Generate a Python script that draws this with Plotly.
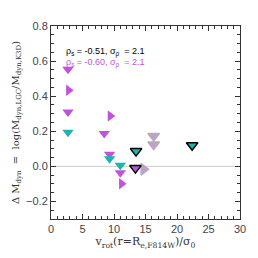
import plotly.graph_objects as go

# magenta down triangles
mag_down_x = [2.7, 2.7, 8.45, 9.3, 11.0]
mag_down_y = [0.553, 0.31, 0.187, 0.069, -0.036]
# magenta right triangles
mag_right_x = [2.8, 9.4, 11.2]
mag_right_y = [0.434, 0.287, -0.099]
# cyan down triangles
cyan_down_x = [2.7, 9.3, 11.0]
cyan_down_y = [0.195, 0.044, 0.006]
# black-edged cyan down
cyan_edge_x = [13.5, 22.4]
cyan_edge_y = [0.087, 0.12]
# black-edged magenta down
mag_edge_x = [13.4]
mag_edge_y = [-0.01]
# gray down
gray_down_x = [16.3, 16.3]
gray_down_y = [0.173, 0.124]
# gray right
gray_right_x = [14.7]
gray_right_y = [-0.017]

MAG = "#c152de"
CYAN = "#1fb3ae"
GRAYF = "#c69ad6"
GRAYL = "#b0b0b0"

fig = go.Figure()
def add(x, y, sym, fill, line, lw, size=10):
    fig.add_trace(go.Scatter(x=x, y=y, mode="markers",
                             marker=dict(symbol=sym, size=size, color=fill,
                                         line=dict(color=line, width=lw)),
                             showlegend=False, cliponaxis=False))

add(gray_down_x, gray_down_y, "triangle-down", GRAYF, GRAYL, 1.5)
add(gray_right_x, gray_right_y, "triangle-right", GRAYF, GRAYL, 1.5)
add(mag_down_x, mag_down_y, "triangle-down", MAG, MAG, 0)
add(mag_right_x, mag_right_y, "triangle-right", MAG, MAG, 0)
add(cyan_down_x, cyan_down_y, "triangle-down", CYAN, CYAN, 0)
add(cyan_edge_x, cyan_edge_y, "triangle-down", CYAN, "black", 1.5)
add(mag_edge_x, mag_edge_y, "triangle-down", MAG, "black", 1.5)

fig.add_shape(type="line", x0=0, x1=30, y0=0, y1=0, xref="x", yref="y",
              line=dict(color="#cccccc", width=1), layer="below")

fig.add_annotation(x=0.07, y=0.905, xref="paper", yref="paper", xanchor="left",
                   text="ρ<sub>s</sub> = -0.51, σ<sub>ρ</sub>  = 2.1", showarrow=False,
                   font=dict(size=9, color="black", family="Liberation Sans"))
fig.add_annotation(x=0.07, y=0.85, xref="paper", yref="paper", xanchor="left",
                   text="ρ<sub>s</sub> = -0.60, σ<sub>ρ</sub>  = 2.1", showarrow=False,
                   font=dict(size=9, color=MAG, family="Liberation Sans"))

axcommon = dict(showline=True, linecolor="#333", linewidth=1, mirror="ticks",
                ticks="inside", ticklen=5, tickcolor="#333", showgrid=False,
                zeroline=False, ticklabeloverflow="allow",
                tickfont=dict(size=11, color="#444", family="Liberation Sans"))
fig.update_xaxes(range=[0, 30], tick0=0, dtick=5,
                 minor=dict(ticks="inside", ticklen=3, dtick=1, tickcolor="#333"),
                 title=dict(text="v<sub>rot</sub>(r=R<sub>e,F814W</sub>)/σ<sub>0</sub>",
                            font=dict(size=11, color="#333", family="DejaVu Serif"), standoff=2),
                 **axcommon)
fig.update_yaxes(range=[-0.3, 0.8], tick0=0, dtick=0.2, tickformat=".1f",
                 minor=dict(ticks="inside", ticklen=3, dtick=0.05, tickcolor="#333"),
                 title=dict(text="Δ M<sub>dyn</sub>  =  log(M<sub>dyn,LGC</sub>/M<sub>dyn,K3D</sub>)",
                            font=dict(size=10, color="#333", family="DejaVu Serif"), standoff=4),
                 **axcommon)
fig.update_layout(width=258, height=258, margin=dict(l=51, r=13, t=26, b=39),
                  plot_bgcolor="white", paper_bgcolor="white")
fig.write_html("out.html", config={"displayModeBar": False},
               post_script="document.body.style.margin='0';document.body.style.overflow='hidden';")
